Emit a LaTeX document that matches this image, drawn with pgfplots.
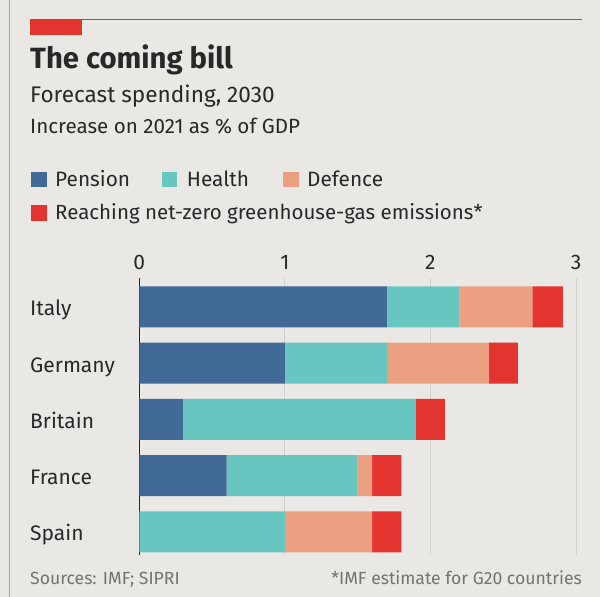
\documentclass[border=0pt]{standalone}
\usepackage{pgfplots}
\usepackage{pgfplotstable}
\pgfplotsset{compat=1.18}
\usepackage{fontspec}
\setmainfont{Fira Sans}

\definecolor{paper}{RGB}{233,232,228}
\definecolor{pension}{RGB}{66,106,152}
\definecolor{health}{RGB}{104,198,192}
\definecolor{defence}{RGB}{236,160,130}
\definecolor{netzero}{RGB}{228,52,48}
\definecolor{ink}{RGB}{40,40,40}
\definecolor{srcgray}{RGB}{115,115,115}

% y: Italy=4 ... Spain=0
\pgfplotstableread{
y pension health defence netzero
4 1.70 0.50 0.50 0.21
3 1.00 0.70 0.70 0.20
2 0.30 1.60 0.00 0.20
1 0.60 0.90 0.10 0.20
0 0.00 1.00 0.60 0.20
}\spending

\begin{document}
\begin{tikzpicture}[x=1pt,y=1pt]
\useasboundingbox (0,0) rectangle (600,597);
\fill[paper] (0,0) rectangle (600,597);
\draw[gray!70, line width=1pt] (9,0) -- (9,597);

% header
\fill[netzero] (30,562) rectangle (82,578);
\draw[netzero, line width=1.3pt] (30,577.5) -- (582,577.5);
\node[anchor=base west, inner sep=0pt, text=ink, font=\fontsize{29.3}{32}\selectfont\bfseries] at (30,528) {The coming bill};
\node[anchor=base west, inner sep=0pt, text=ink, font=\fontsize{22.6}{26}\selectfont] at (30,494) {Forecast spending, 2030};
\node[anchor=base west, inner sep=0pt, text=ink, font=\fontsize{20.6}{24}\selectfont] at (30,463.5) {Increase on 2021 as \% of GDP};

% legend
\fill[pension] (30.7,410.3) rectangle (46.7,425.3);
\node[anchor=base west, inner sep=0pt, text=ink, font=\fontsize{20.8}{25}\selectfont] at (55,410.3) {Pension};
\fill[health] (161.7,410.3) rectangle (176.7,425.3);
\node[anchor=base west, inner sep=0pt, text=ink, font=\fontsize{20.8}{25}\selectfont] at (186.7,410.3) {Health};
\fill[defence] (283.3,410.3) rectangle (299.3,425.3);
\node[anchor=base west, inner sep=0pt, text=ink, font=\fontsize{20.8}{25}\selectfont] at (307,410.3) {Defence};
\fill[netzero] (30.7,376) rectangle (46.7,392);
\node[anchor=base west, inner sep=0pt, text=ink, font=\fontsize{20.5}{25}\selectfont] at (55,377) {Reaching net-zero greenhouse-gas emissions*};

\begin{axis}[
  at={(139.3pt,42pt)}, anchor=south west,
  scale only axis,
  width=436.7pt, height=277.3pt,
  xbar stacked,
  bar width=41pt,
  xmin=0, xmax=3,
  ymin=-0.41, ymax=4.52,
  axis line style={draw=none},
  xtick={0,1,2,3},
  xticklabel pos=right,
  xmajorgrids,
  grid style={black!18, line width=0.8pt},
  major tick length=0pt,
  ytick={0,1,2,3,4},
  yticklabels={Spain,France,Britain,Germany,Italy},
  /pgf/number format/assume math mode=true,
  xticklabel style={font=\fontsize{21}{25}\selectfont, text=ink, anchor=south, inner sep=0pt, yshift=7.5pt},
  yticklabel style={font=\fontsize{21}{25}\selectfont, text=ink, anchor=base west, inner sep=0pt, xshift=-109.3pt, yshift=-9pt},
  clip=false,
]
\addplot[fill=pension, draw=none] table[x=pension, y=y] {\spending};
\addplot[fill=health, draw=none] table[x=health, y=y] {\spending};
\addplot[fill=defence, draw=none] table[x=defence, y=y] {\spending};
\addplot[fill=netzero, draw=none] table[x=netzero, y=y] {\spending};
\draw[ink, line width=1pt] (axis cs:0,-0.41) -- (axis cs:0,4.52);
\end{axis}

% footer
\node[anchor=base west, inner sep=0pt, text=srcgray, font=\fontsize{17.6}{20}\selectfont] at (30,12) {Sources: IMF; SIPRI};
\node[anchor=base east, inner sep=0pt, text=srcgray, font=\fontsize{17.6}{20}\selectfont] at (582,12) {*IMF estimate for G20 countries};
\end{tikzpicture}
\end{document}
